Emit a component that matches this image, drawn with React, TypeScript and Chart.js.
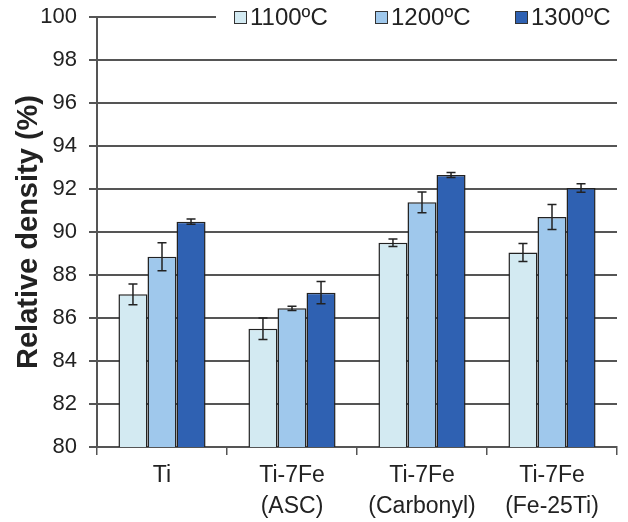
import React, { useEffect, useRef } from "react";
import { Chart, registerables } from "chart.js";

Chart.register(...registerables);

const categories: string[][] = [
  ["Ti"],
  ["Ti-7Fe", "(ASC)"],
  ["Ti-7Fe", "(Carbonyl)"],
  ["Ti-7Fe", "(Fe-25Ti)"],
];

const seriesNames = ["1100ºC", "1200ºC", "1300ºC"];
const density1100 = [87.1, 85.5, 89.5, 89.05];
const density1200 = [88.85, 86.45, 91.38, 90.7];
const density1300 = [90.48, 87.18, 92.65, 92.05];
const error1100 = [0.48, 0.5, 0.18, 0.42];
const error1200 = [0.65, 0.1, 0.48, 0.58];
const error1300 = [0.12, 0.52, 0.12, 0.2];

const yTicks = [80, 82, 84, 86, 88, 90, 92, 94, 96, 98, 100];

const fills = ["#d3eaf2", "#9fc8ec", "#2f61b2"];
const FONT = "'Liberation Sans', Arial, sans-serif";

const errorBars = {
  id: "errorBars",
  afterDatasetsDraw(chart: any) {
    const ctx = chart.ctx;
    const y = chart.scales.y;
    ctx.save();
    ctx.strokeStyle = "#222";
    ctx.lineWidth = 1.5;
    chart.data.datasets.forEach((ds: any, i: number) => {
      const meta = chart.getDatasetMeta(i);
      meta.data.forEach((bar: any, j: number) => {
        const v = ds.data[j];
        const e = ds.errors[j];
        const top = y.getPixelForValue(v + e);
        const bot = y.getPixelForValue(v - e);
        const x = bar.x;
        ctx.beginPath();
        ctx.moveTo(x, top);
        ctx.lineTo(x, bot);
        ctx.moveTo(x - 4.5, top);
        ctx.lineTo(x + 4.5, top);
        ctx.moveTo(x - 4.5, bot);
        ctx.lineTo(x + 4.5, bot);
        ctx.stroke();
      });
    });
    ctx.restore();
  },
};

const insetLegend = {
  id: "insetLegend",
  afterDraw(chart: any) {
    const ctx = chart.ctx;
    ctx.save();
    ctx.fillStyle = "#fff";
    ctx.fillRect(216, 0, chart.width - 216, 34);
    const starts = [234, 375, 515];
    ctx.font = `24px ${FONT}`;
    ctx.textBaseline = "middle";
    chart.data.datasets.forEach((ds: any, i: number) => {
      const x = starts[i];
      ctx.fillStyle = ds.backgroundColor;
      ctx.fillRect(x, 11, 13, 13);
      ctx.strokeStyle = "#333";
      ctx.lineWidth = 1;
      ctx.strokeRect(x + 0.5, 11.5, 12, 12);
      ctx.fillStyle = "#222";
      ctx.fillText(ds.label, x + 16, 18);
    });
    ctx.restore();
  },
};

export default function App() {
  const ref = useRef<HTMLCanvasElement | null>(null);

  useEffect(() => {
    document.body.style.margin = "0";
    const values = [density1100, density1200, density1300];
    const errors = [error1100, error1200, error1300];
    const chart = new Chart(ref.current as HTMLCanvasElement, {
      type: "bar",
      data: {
        labels: categories,
        datasets: seriesNames.map((name, i) => ({
          label: name,
          data: values[i],
          errors: errors[i],
          backgroundColor: fills[i],
          borderColor: "#222",
          borderWidth: 1.5,
          categoryPercentage: 0.67,
          barPercentage: 1.0,
        })) as any,
      },
      options: {
        responsive: false,
        animation: false,
        devicePixelRatio: 1,
        layout: { padding: { top: 17, right: 11, left: 0, bottom: 0 } },
        plugins: {
          legend: { display: false },
          tooltip: { enabled: false },
        },
        scales: {
          x: {
            grid: {
              offset: true,
              drawOnChartArea: false,
              drawTicks: true,
              tickLength: 8,
              color: "#555",
              lineWidth: 1.5,
            },
            border: { color: "#555", width: 2 },
            ticks: {
              color: "#222",
              font: { family: FONT, size: 23, lineHeight: 1.35 },
              padding: 5,
            },
            afterFit(scale: any) {
              scale.height = 75;
            },
          },
          y: {
            min: 80,
            max: 100,
            afterBuildTicks(scale: any) {
              scale.ticks = yTicks.map((v) => ({ value: v }));
            },
            grid: {
              color: "#555",
              lineWidth: 2,
              tickLength: 8,
            },
            border: { color: "#555", width: 2 },
            ticks: {
              color: "#222",
              font: { family: FONT, size: 22 },
              padding: 12,
            },
            title: {
              display: true,
              text: "Relative density (%)",
              color: "#222",
              font: { family: FONT, size: 29, weight: "bold" },
              padding: { top: 12, bottom: 0 },
            },
            afterFit(scale: any) {
              scale.width = 97;
              scale.paddingTop = 0;
              scale.paddingBottom = 0;
            },
          },
        },
      },
      plugins: [errorBars, insetLegend],
    });
    return () => chart.destroy();
  }, []);

  return (
    <div style={{ position: "absolute", left: 0, top: 0, width: 628, height: 522, background: "#fff" }}>
      <canvas ref={ref} width={628} height={522} />
    </div>
  );
}
